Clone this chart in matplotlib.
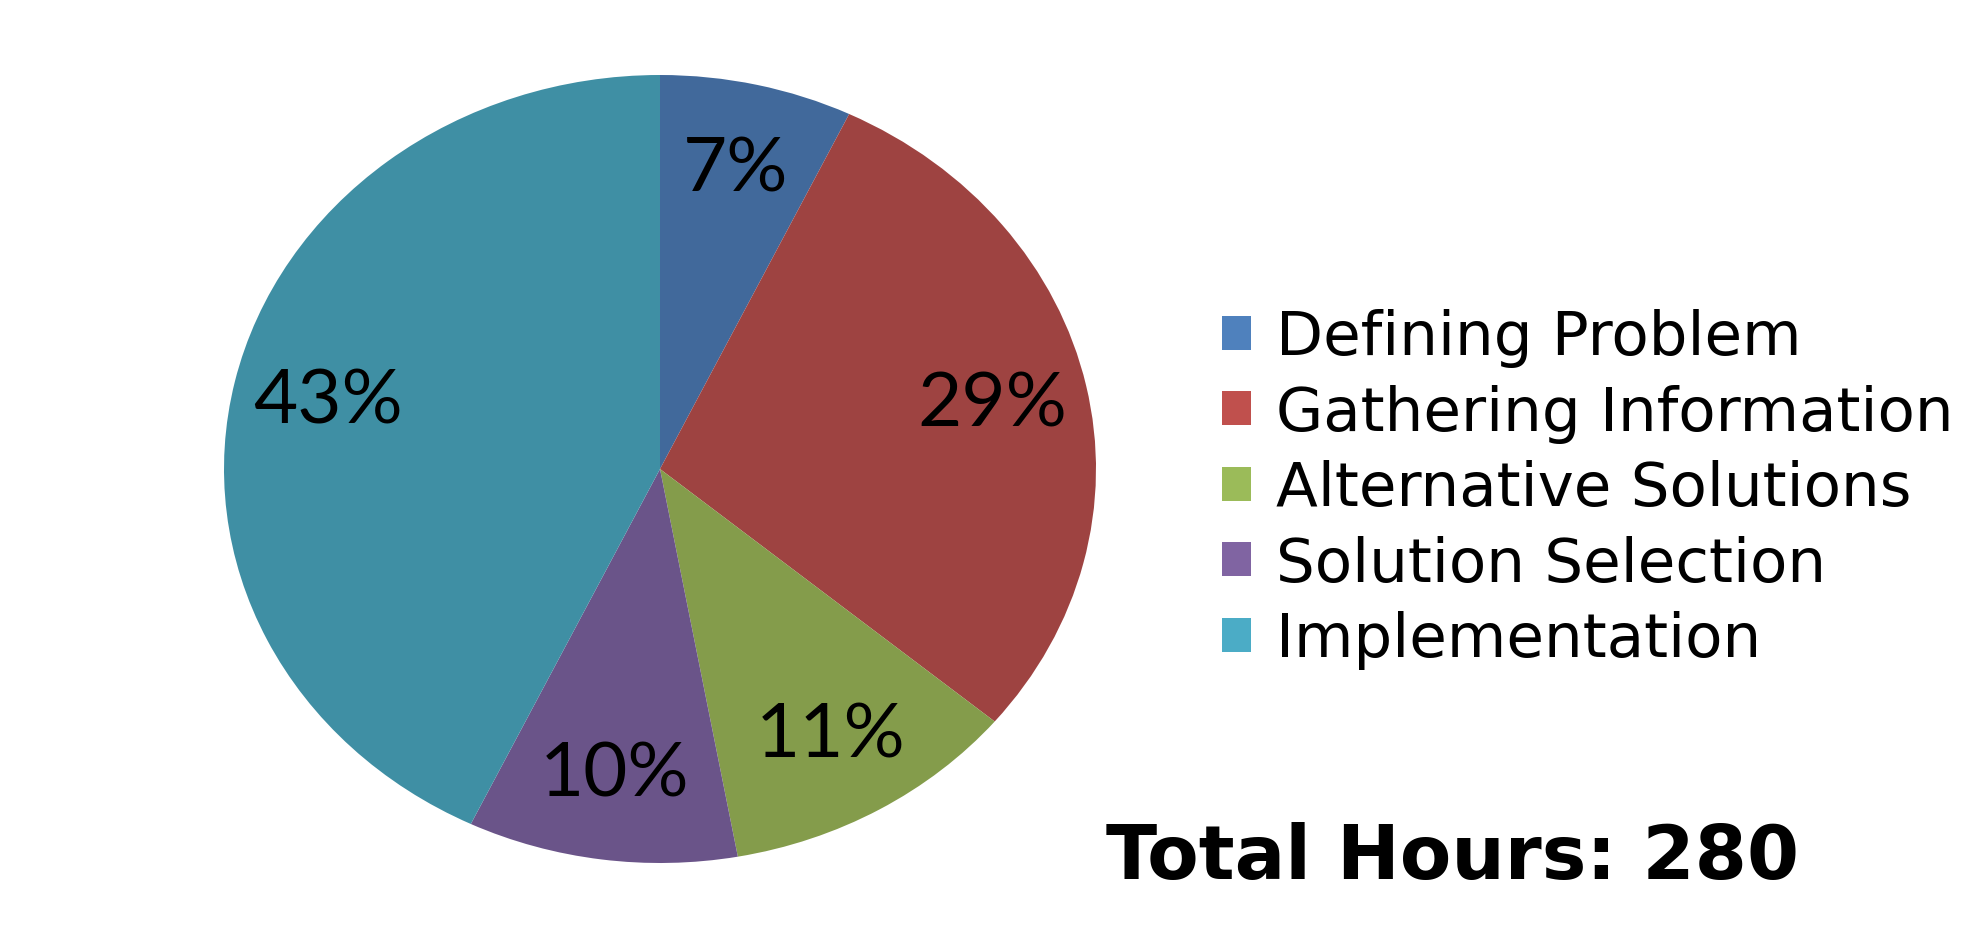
import matplotlib
matplotlib.use("Agg")
import matplotlib.pyplot as plt
from matplotlib.patches import Patch

# hours spent per phase (total 280)
phases = ["Defining Problem", "Gathering Information", "Alternative Solutions",
          "Solution Selection", "Implementation"]
hours = [20, 81, 31, 28, 120]
slice_colors = ["#41699b", "#9e4341", "#849c4b", "#6a5489", "#3f8fa4"]
legend_colors = ["#4f81bd", "#c0504d", "#9bbb59", "#8064a2", "#4bacc6"]
total_label = "Total Hours: 280"

W, H = 1987, 937
fig = plt.figure(figsize=(W / 100, H / 100), dpi=100)
fig.patch.set_facecolor("white")

# pie is stretched into an ellipse: bounding box in pixels
left, right, top, bottom = 224, 1096, 76, 864
ax = fig.add_axes([left / W, (H - bottom) / H, (right - left) / W, (bottom - top) / H])

wedges, texts, autotexts = ax.pie(
    hours, colors=slice_colors, startangle=90, counterclock=False,
    autopct="%1.0f%%", pctdistance=0.78, radius=1.0,
    textprops=dict(fontsize=55, family="Lato", color="black"),
    wedgeprops=dict(linewidth=0))
ax.set_aspect("auto")
ax.set_xlim(-1, 1)
ax.set_ylim(-1, 1)
ax.axis("off")

handles = [Patch(facecolor=c, edgecolor="none") for c in legend_colors]
fig.legend(handles, phases, loc="center left",
           bbox_to_anchor=(1222 / W, 1 - 490 / H), frameon=False,
           prop=dict(family="DejaVu Sans", size=44),
           handlelength=0.48, handleheight=0.48, handletextpad=0.4,
           labelspacing=0.27, borderpad=0, borderaxespad=0)

fig.text(1106 / W, 1 - 858 / H, total_label, fontsize=54, fontweight="bold",
         family="DejaVu Sans", ha="left", va="center")

fig.savefig("out.png", dpi=100)
